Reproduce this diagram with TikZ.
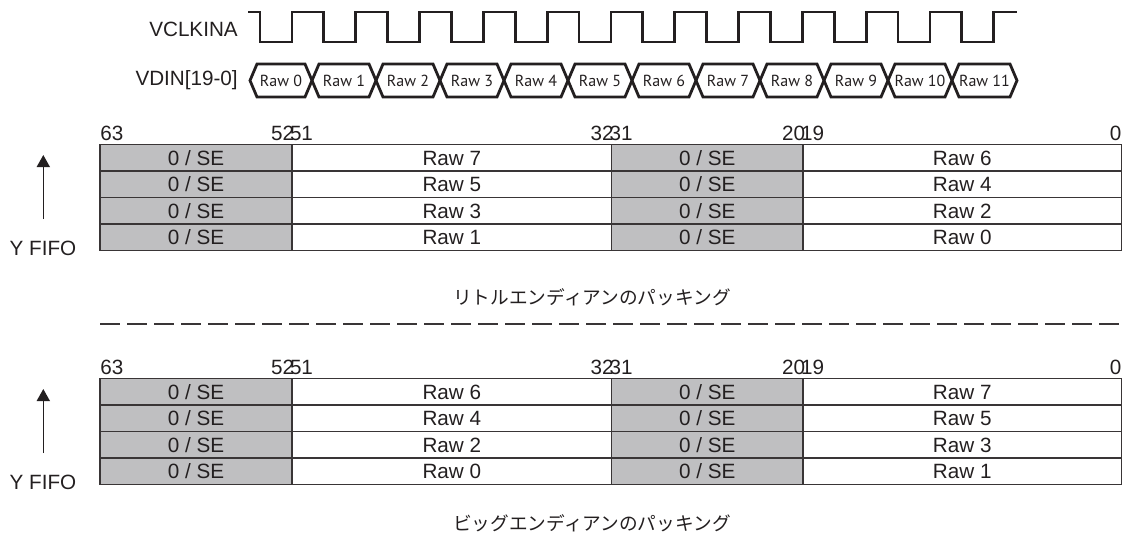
\documentclass[tikz,border=0pt]{standalone}
\usepackage{fontspec}
\setmainfont{Liberation Sans}
\newfontfamily\busfont{PT Sans}
\newfontfamily\jpfont{Noto Sans CJK JP}
\usetikzlibrary{arrows.meta}
\definecolor{ink}{RGB}{35,31,32}
\definecolor{cellgray}{RGB}{191,191,193}
\begin{document}
\begin{tikzpicture}[x=0.75pt,y=-0.75pt,
  lbl/.style={font=\fontsize{15.5}{18}\selectfont, text=ink, inner sep=0},
  buslbl/.style={font=\busfont\fontsize{12}{14}\selectfont, text=ink, inner sep=0, anchor=base},
  jplbl/.style={font=\jpfont\fontsize{14}{16}\selectfont, text=ink, inner sep=0},
  clk/.style={draw=ink, line width=2.2pt},
  bus/.style={draw=ink, line width=2.1pt},
  cellbox/.style={draw=ink!90, line width=0.8pt, inner sep=0, minimum height=26.5*0.75pt,
    text height=11pt, text depth=0pt, font=\fontsize{15.5}{18}\selectfont, text=ink},
  secell/.style={cellbox, fill=cellgray},
  rawcell/.style={cellbox},
  fifoarrow/.style={draw=ink, line width=1.2pt, -{Triangle[width=9.75pt,length=9pt]}},
  sepline/.style={draw=ink!90, line width=1.5pt, dash pattern=on 15pt off 5.25pt}
]
\useasboundingbox (0,0) rectangle (1125,533);

% ---- clock ----
\node[lbl, anchor=base east] (vclk) at (238,36) {VCLKINA};
\draw[clk] (248,12) foreach \i in {0,...,11} {
  -- ({260+63.8*\i},12) -- ({260+63.8*\i},42) -- ({292+63.8*\i},42) -- ({292+63.8*\i},12)
} -- (1017,12);

% ---- data bus ----
\node[lbl, anchor=base east] (vdin) at (238,85) {VDIN[19-0]};
\foreach \i in {0,...,11} {
  \pgfmathsetmacro\L{\i==0 ? 250 : 312+64*(\i-1)}
  \pgfmathsetmacro\R{\i==11 ? 1017 : 312+64*\i}
  \draw[bus] (\L,80.5) -- (\L+7,64) -- (\R-7,64) -- (\R,80.5) -- (\R-7,97) -- (\L+7,97) -- cycle;
  \node[buslbl] (raw\i) at ({(\L+\R)/2},86) {Raw \i};
}

% ---- upper table (little endian) ----
\node[lbl, anchor=base west] (ub63) at (100,140.5) {63};
\node[lbl, anchor=base] (ub52) at (292,140.5) {52\kern-3pt51};
\node[lbl, anchor=base] (ub32) at (611.6,140.5) {32\kern-3pt31};
\node[lbl, anchor=base] (ub20) at (803,140.5) {20\kern-3pt19};
\node[lbl, anchor=base east] (ub0) at (1121.5,140.5) {0};
\foreach \r/\a/\b in {0/7/6,1/5/4,2/3/2,3/1/0} {
  \pgfmathsetmacro\cy{157.75+26.5*\r}
  \node[secell, minimum width=192*0.75pt] (u\r-a) at (196,\cy) {0 / SE};
  \node[rawcell, minimum width=319.6*0.75pt] (u\r-b) at (451.8,\cy) {Raw \a};
  \node[secell, minimum width=191.4*0.75pt] (u\r-c) at (707.3,\cy) {0 / SE};
  \node[rawcell, minimum width=318.5*0.75pt] (u\r-d) at (962.25,\cy) {Raw \b};
}
\coordinate (ua0) at (43.3,219);
\coordinate (ua1) at (43.3,155);
\draw[fifoarrow] (ua0) -- (ua1);
\node[lbl, anchor=base] (ufifo) at (43,255) {Y FIFO};
\node[jplbl] (ucap) at (592,297) {リトルエンディアンのパッキング};

% ---- separator ----
\coordinate (s0) at (100,324);
\coordinate (s1) at (1121.5,324);
\draw[sepline] (s0) -- (s1);

% ---- lower table (big endian) ----
\node[lbl, anchor=base west] (lb63) at (100,374.5) {63};
\node[lbl, anchor=base] (lb52) at (292,374.5) {52\kern-3pt51};
\node[lbl, anchor=base] (lb32) at (611.6,374.5) {32\kern-3pt31};
\node[lbl, anchor=base] (lb20) at (803,374.5) {20\kern-3pt19};
\node[lbl, anchor=base east] (lb0) at (1121.5,374.5) {0};
\foreach \r/\a/\b in {0/6/7,1/4/5,2/2/3,3/0/1} {
  \pgfmathsetmacro\cy{391.75+26.5*\r}
  \node[secell, minimum width=192*0.75pt] (l\r-a) at (196,\cy) {0 / SE};
  \node[rawcell, minimum width=319.6*0.75pt] (l\r-b) at (451.8,\cy) {Raw \a};
  \node[secell, minimum width=191.4*0.75pt] (l\r-c) at (707.3,\cy) {0 / SE};
  \node[rawcell, minimum width=318.5*0.75pt] (l\r-d) at (962.25,\cy) {Raw \b};
}
\coordinate (la0) at (43.3,453);
\coordinate (la1) at (43.3,389);
\draw[fifoarrow] (la0) -- (la1);
\node[lbl, anchor=base] (lfifo) at (43,489) {Y FIFO};
\node[jplbl] (lcap) at (592,523) {ビッグエンディアンのパッキング};
\end{tikzpicture}
\end{document}
